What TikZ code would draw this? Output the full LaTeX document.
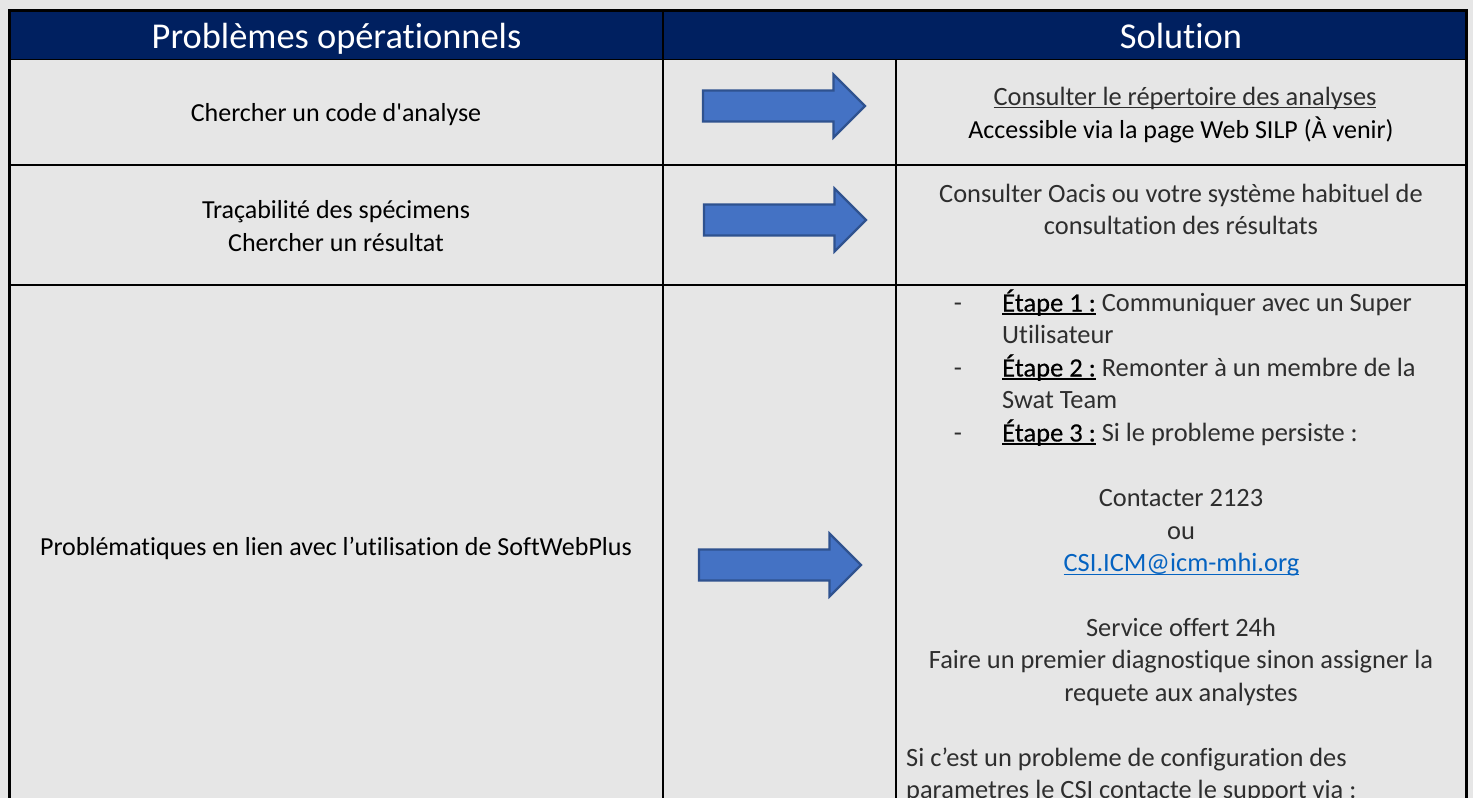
\documentclass[tikz,border=0pt]{standalone}
\usepackage{fontspec}
\setmainfont[Ligatures={NoCommon,TeXOff}]{Carlito}
\newfontfamily\etapefont[Ligatures={NoCommon,TeXOff},FakeBold=0.5,LetterSpace=0.3]{Carlito}
\definecolor{pagegrey}{HTML}{E6E6E6}
\definecolor{headblue}{HTML}{002060}
\definecolor{arrowfill}{HTML}{4472C4}
\definecolor{arrowline}{HTML}{2F528F}
\definecolor{lighttext}{HTML}{2E2E2E}
\definecolor{linkblue}{HTML}{0563C1}
\newcommand\ulbox[3]{\setbox0\hbox{#1}\rlap{\rule[-#2]{\wd0}{#3}}\box0}
\tikzset{
  x=1pt,y=-1pt,
  grid/.style={line width=1.8pt,black},
  outer/.style={line width=2.7pt,black},
  bigarrow/.style={draw=arrowline,fill=arrowfill,line width=2.2pt,line join=miter},
  headtxt/.style={anchor=base,inner sep=0pt,text=white,font=\fontsize{36.4}{40}\selectfont},
  lefttxt/.style={anchor=base,inner sep=0pt,text=black,font=\fontsize{26}{30}\selectfont},
  righttxt/.style={anchor=base,inner sep=0pt,text=lighttext,font=\fontsize{26.4}{30}\selectfont},
  rightl/.style={righttxt,anchor=base west},
}
\newcommand\etape[1]{{\color{black}\ulbox{\etapefont\'Etape #1 :}{3.5pt}{1.8pt}}}
\begin{document}
\begin{tikzpicture}
\useasboundingbox (0,0) rectangle (1473,798);
\clip (0,0) rectangle (1473,798);
\fill[pagegrey] (0,0) rectangle (1473,798);
\fill[headblue] (9,10.7) rectangle (1467,60);
% grid
\draw[outer] (9.6,798) -- (9.6,10.7) -- (1466.8,10.7) -- (1466.8,798);
\draw[grid] (9,59.5) -- (1467,59.5);
\draw[grid] (9,164.7) -- (1467,164.7);
\draw[grid] (9,285) -- (1467,285);
\draw[grid] (663,11) -- (663,798);
\draw[grid] (896,60) -- (896,798);
% arrows
\draw[bigarrow] (703,90.5) -- (833.5,90.5) -- (833.5,74.5) -- (865,106) -- (833.5,137.5) -- (833.5,121.5) -- (703,121.5) -- cycle;
\draw[bigarrow] (704,204.5) -- (834.5,204.5) -- (834.5,188.5) -- (866,220) -- (834.5,251.5) -- (834.5,235.5) -- (704,235.5) -- cycle;
\draw[bigarrow] (699,549.5) -- (829.5,549.5) -- (829.5,533.5) -- (861,565) -- (829.5,596.5) -- (829.5,580.5) -- (699,580.5) -- cycle;
% headers
\node[headtxt] (h1) at (336.5,48) {Problèmes opérationnels};
\node[headtxt] (h2) at (1181,48) {Solution};
% left column
\node[lefttxt] (l1) at (336,121) {Chercher un code d'analyse};
\node[lefttxt] (l2) at (336,218) {Traçabilité des spécimens};
\node[lefttxt] (l3) at (336,251) {Chercher un résultat};
\node[lefttxt] (l4) at (336,555) {Problématiques en lien avec l’utilisation de SoftWebPlus};
% right column
\node[righttxt] (r1) at (1185,105) {\ulbox{Consulter le répertoire des analyses}{3pt}{1pt}};
\node[lefttxt] (r2) at (1181,138) {Accessible via la page Web SILP (À venir)};
\node[righttxt] (r3) at (1181,202) {Consulter Oacis ou votre système habituel de};
\node[righttxt] (r4) at (1181,234.5) {consultation des résultats};
\node[righttxt] (d1) at (958,311.5) {-};
\node[rightl] (e1) at (1002,311.5) {\etape{1} Communiquer avec un Super};
\node[rightl] (e1b) at (1002,343.5) {Utilisateur};
\node[righttxt] (d2) at (958,376.5) {-};
\node[rightl] (e2) at (1002,376.5) {\etape{2} Remonter à un membre de la};
\node[rightl] (e2b) at (1002,408.5) {Swat Team};
\node[righttxt] (d3) at (958,441.5) {-};
\node[rightl] (e3) at (1002,441.5) {\etape{3} Si le probleme persiste :};
\node[righttxt] (c1) at (1181,506.5) {Contacter 2123};
\node[righttxt] (c2) at (1181,539) {ou};
\node[righttxt,text=linkblue] (c3) at (1181.5,571.5) {\ulbox{CSI.ICM@icm-mhi.org}{3.5pt}{1pt}};
\node[righttxt] (s1) at (1181,636) {Service offert 24h};
\node[righttxt] (s2) at (1181,668.5) {Faire un premier diagnostique sinon assigner la};
\node[righttxt] (s3) at (1181,701) {requete aux analystes};
\node[rightl] (p1) at (906,766) {Si c’est un probleme de configuration des};
\node[rightl] (p2) at (906,798.5) {parametres le CSI contacte le support via :};
\end{tikzpicture}
\end{document}
